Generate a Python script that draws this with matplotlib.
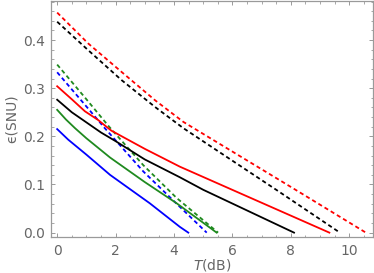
import numpy as np
import matplotlib
matplotlib.use("Agg")
import matplotlib.pyplot as plt
from matplotlib.ticker import MultipleLocator

# curvas: T (dB) e epsilon (SNU)
T_red_d = [0, 1.06, 2.2, 3.35, 4.32, 8.08, 10.57]
e_red_d = [0.457, 0.393, 0.334, 0.275, 0.230, 0.092, 0.0]

T_blk_d = [0, 1.06, 2.2, 3.35, 4.32, 7.51, 9.68]
e_blk_d = [0.438, 0.379, 0.317, 0.261, 0.217, 0.0886, 0.0]

T_grn_d = [0, 1.0, 1.75, 2.95, 4.09, 5.51]
e_grn_d = [0.349, 0.277, 0.222, 0.140, 0.072, 0.0]

T_blu_d = [0, 1.0, 1.63, 2.95, 4.09, 5.12]
e_blu_d = [0.333, 0.262, 0.217, 0.127, 0.060, 0.0]

T_red = [0, 0.5, 0.95, 1.4, 1.85, 3.0, 4.2, 6.03, 9.32]
e_red = [0.304, 0.277, 0.252, 0.234, 0.212, 0.174, 0.137, 0.088, 0.0]

T_blk = [0, 0.5, 1.0, 1.5, 2.0, 3.0, 4.2, 5.0, 8.11]
e_blk = [0.276, 0.250, 0.229, 0.208, 0.190, 0.152, 0.115, 0.089, 0.0]

T_grn = [0, 0.3, 0.61, 1.0, 1.81, 3.0, 4.09, 5.46]
e_grn = [0.255, 0.235, 0.217, 0.196, 0.156, 0.105, 0.061, 0.0]

T_blu = [0, 0.38, 1.0, 1.81, 3.17, 4.2, 4.49]
e_blu = [0.215, 0.193, 0.162, 0.120, 0.061, 0.012, 0.0]

xticks = [0, 2, 4, 6, 8, 10]
yticks = [0.0, 0.1, 0.2, 0.3, 0.4]

verde = "#1f8a1f"
cinza = "#9a9a9a"
texto = "#666666"


def main():
    fig = plt.figure(figsize=(3.74, 2.73), dpi=100)
    ax = fig.add_axes([0.136, 0.132, 0.861, 0.866])

    lw = 1.3
    dash = (0, (2.3, 1.7))
    ax.plot(T_red_d, e_red_d, color="red", lw=lw, ls=dash)
    ax.plot(T_blk_d, e_blk_d, color="black", lw=lw, ls=dash)
    ax.plot(T_grn_d, e_grn_d, color=verde, lw=lw, ls=dash)
    ax.plot(T_blu_d, e_blu_d, color="blue", lw=lw, ls=dash)
    ax.plot(T_red, e_red, color="red", lw=lw)
    ax.plot(T_blk, e_blk, color="black", lw=lw)
    ax.plot(T_grn, e_grn, color=verde, lw=lw)
    ax.plot(T_blu, e_blu, color="blue", lw=lw)

    ax.set_xlim(-0.216, 10.81)
    ax.set_ylim(-0.009, 0.482)
    ax.set_xticks(xticks)
    ax.set_yticks(yticks)
    ax.set_xticklabels([str(t) for t in xticks])
    ax.set_yticklabels(["%.1f" % t for t in yticks])
    ax.xaxis.set_minor_locator(MultipleLocator(0.5))
    ax.yaxis.set_minor_locator(MultipleLocator(0.02))

    for s in ax.spines.values():
        s.set_color(cinza)
        s.set_linewidth(0.9)
    ax.tick_params(which="both", direction="in", top=True, right=True,
                   color=cinza, labelcolor=texto, labelsize=10)
    ax.tick_params(which="major", length=3.0, width=0.7)
    ax.tick_params(which="minor", length=1.8, width=0.6)
    ax.tick_params(axis="x", pad=5)
    ax.tick_params(axis="y", pad=4)

    ax.set_xlabel(r"$T$(dB)", color=texto, fontsize=10, labelpad=-1)
    ax.set_ylabel("\u03f5(SNU)", color=texto, fontsize=10, labelpad=3)

    fig.savefig("out.png", dpi=100)


if __name__ == "__main__":
    main()
